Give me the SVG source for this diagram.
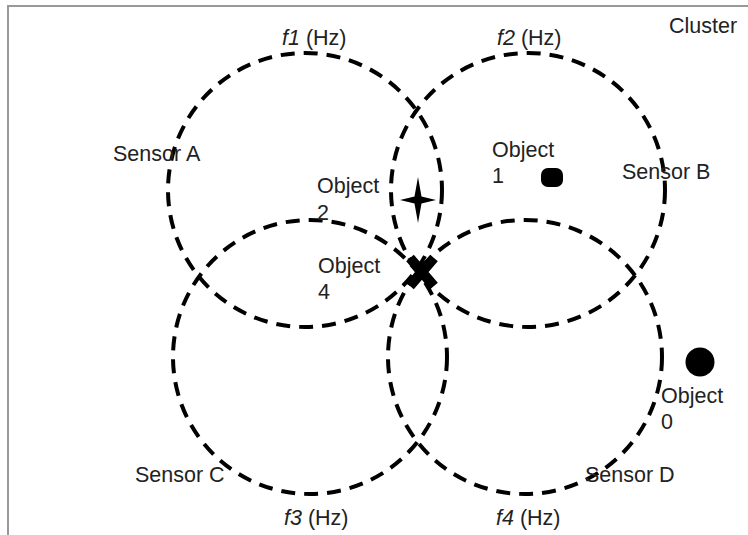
<svg xmlns="http://www.w3.org/2000/svg" width="748" height="535" viewBox="0 0 748 535">
<style>
.t{font-family:"Liberation Sans",Arial,sans-serif;font-size:21.5px;fill:#222}
.i{font-style:italic}
.ring{fill:none;stroke:#000;stroke-width:4;stroke-dasharray:14 9}
</style>
<rect width="748" height="535" fill="#fff"/>
<path d="M8,535 V6 H748" fill="none" stroke="#999" stroke-width="2"/>
<g id="connectors"></g>
<g id="sensorA"><circle class="ring" cx="305" cy="190" r="137"/><text class="t" x="113" y="161">Sensor A</text><text class="t" x="282" y="45"><tspan class="i">f1</tspan> (Hz)</text></g>
<g id="sensorB"><circle class="ring" cx="528" cy="190" r="137"/><text class="t" x="622" y="179">Sensor B</text><text class="t" x="497" y="45"><tspan class="i">f2</tspan> (Hz)</text></g>
<g id="sensorC"><circle class="ring" cx="310" cy="357" r="137"/><text class="t" x="135" y="482">Sensor C</text><text class="t" x="284" y="525"><tspan class="i">f3</tspan> (Hz)</text></g>
<g id="sensorD"><circle class="ring" cx="525" cy="357" r="137"/><text class="t" x="585" y="482">Sensor D</text><text class="t" x="496" y="525"><tspan class="i">f4</tspan> (Hz)</text></g>
<g id="cluster"><text class="t" x="669" y="33">Cluster</text></g>
<g id="object0"><circle cx="700" cy="362" r="14.5" fill="#000"/><text class="t" x="661" y="403">Object</text><text class="t" x="661" y="429">0</text></g>
<g id="object1"><rect x="541" y="168" width="22" height="19" rx="7" fill="#000"/><text class="t" x="492" y="157">Object</text><text class="t" x="492" y="183">1</text></g>
<g id="object2"><path d="M418,177 L421.5,196.5 L436,200 L421.5,203.5 L418,223 L414.5,203.5 L400,200 L414.5,196.5 Z" fill="#000"/><text class="t" x="317" y="193">Object</text><text class="t" x="317" y="220">2</text></g>
<g id="object4"><path d="M410,258 L434,286 M434,258 L410,286" stroke="#000" stroke-width="10"/><text class="t" x="318" y="273">Object</text><text class="t" x="318" y="299">4</text></g>
</svg>
